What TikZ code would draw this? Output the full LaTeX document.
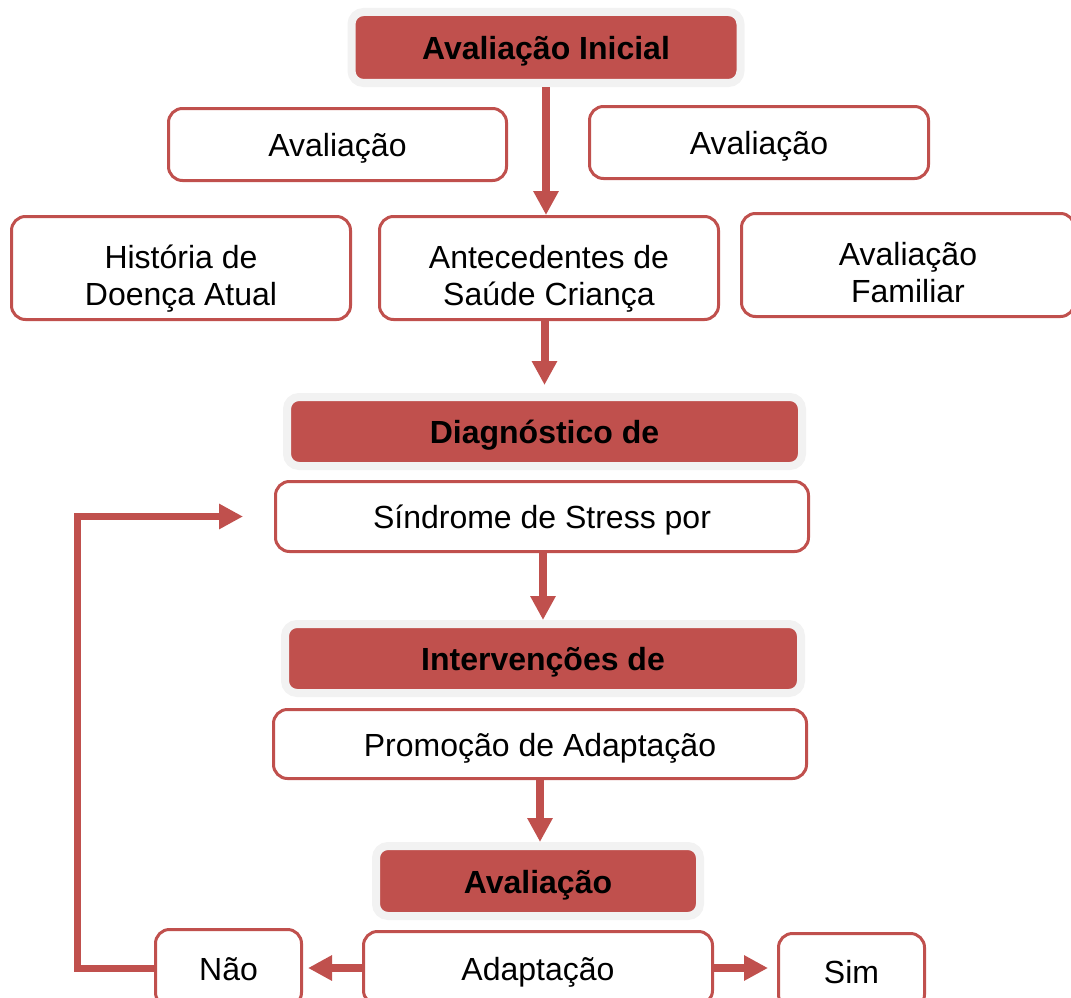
\documentclass[tikz,border=0pt]{standalone}
\usepackage{fontspec}
\setmainfont{Liberation Sans}
\usepackage{tikz}
\usetikzlibrary{positioning,arrows.meta}
\definecolor{boxred}{HTML}{C0504D}
\definecolor{boxgrey}{HTML}{F2F2F2}

\begin{document}
\begin{tikzpicture}[x=1pt,y=-1pt,
	hbox/.style={draw=boxgrey,line width=8pt,fill=boxred,rounded corners=12pt,
		font=\fontsize{32}{37}\selectfont\bfseries,text height=24pt,text depth=0pt},
	ibox/.style={draw=boxred,line width=3pt,fill=white,rounded corners=14pt,align=center,
		font=\fontsize{32}{37}\selectfont,text height=24pt,text depth=0pt},
	twolines/.style={text height=74pt,text depth=0pt},
	arr/.style={boxred,line width=8pt,-{Triangle[length=24pt,width=24pt]}}]
		
		\useasboundingbox (0,0) rectangle (1071,998);
		
		\node[hbox,minimum width=389,minimum height=71] (A)
		at (546,47.5)
		{Avaliação Inicial};
		
		\node[ibox,minimum width=338,minimum height=72] (B)
		at (337.5,144.5)
		{Avaliação};
		
		\node[ibox,minimum width=339,minimum height=72] (C)
		at (759,142.5)
		{Avaliação};
		
		\node[ibox,twolines,minimum width=339,minimum height=103] (D)
		at (181,268)
		{História de\\Doença Atual};
		
		\node[ibox,twolines,minimum width=339,minimum height=103] (E)
		at (549,268)
		{Antecedentes de\\Saúde Criança};
		
		\node[ibox,twolines,minimum width=333,minimum height=103] (F)
		at (908,265)
		{Avaliação\\Familiar};
		
		\node[hbox,minimum width=515,minimum height=69] (G)
		at (544.5,431.5)
		{Diagnóstico de};
		
		\node[ibox,minimum width=533,minimum height=70] (H)
		at (542,516.5)
		{Síndrome de Stress por};
		
		\node[hbox,minimum width=516,minimum height=69] (I)
		at (543,658.5)
		{Intervenções de};
		
		\node[ibox,minimum width=533,minimum height=69] (J)
		at (540,744)
		{Promoção de Adaptação};
		
		\node[hbox,minimum width=324,minimum height=70] (K)
		at (538,881)
		{Avaliação};
		
		\node[ibox,minimum width=349,minimum height=73] (L)
		at (538,968)
		{Adaptação};
		
		\node[ibox,minimum width=146,minimum height=77] (M)
		at (228.5,968)
		{Não};
		
		\node[ibox,minimum width=146,minimum height=75] (N)
		at (851.5,971)
		{Sim};
		
		\draw[arr] (A) -- (A |- E.north);
		\draw[arr,shorten >=8pt] (E.south -| G) -- (G.north);
		\draw[arr] (H.south -| I) -- (I.north);
		\draw[arr] (J.south) -- (J.south |- K.north);
		\draw[arr,shorten >=5pt] (L.west) -- (M.east);
		\draw[arr,shorten >=9pt] (L.east) -- (L.east -| N.west);
		\draw[arr,line width=7pt,shorten >=31pt] (M.west) -- ++(-77,0) |- (H.west);
		
	\end{tikzpicture}
\end{document}
